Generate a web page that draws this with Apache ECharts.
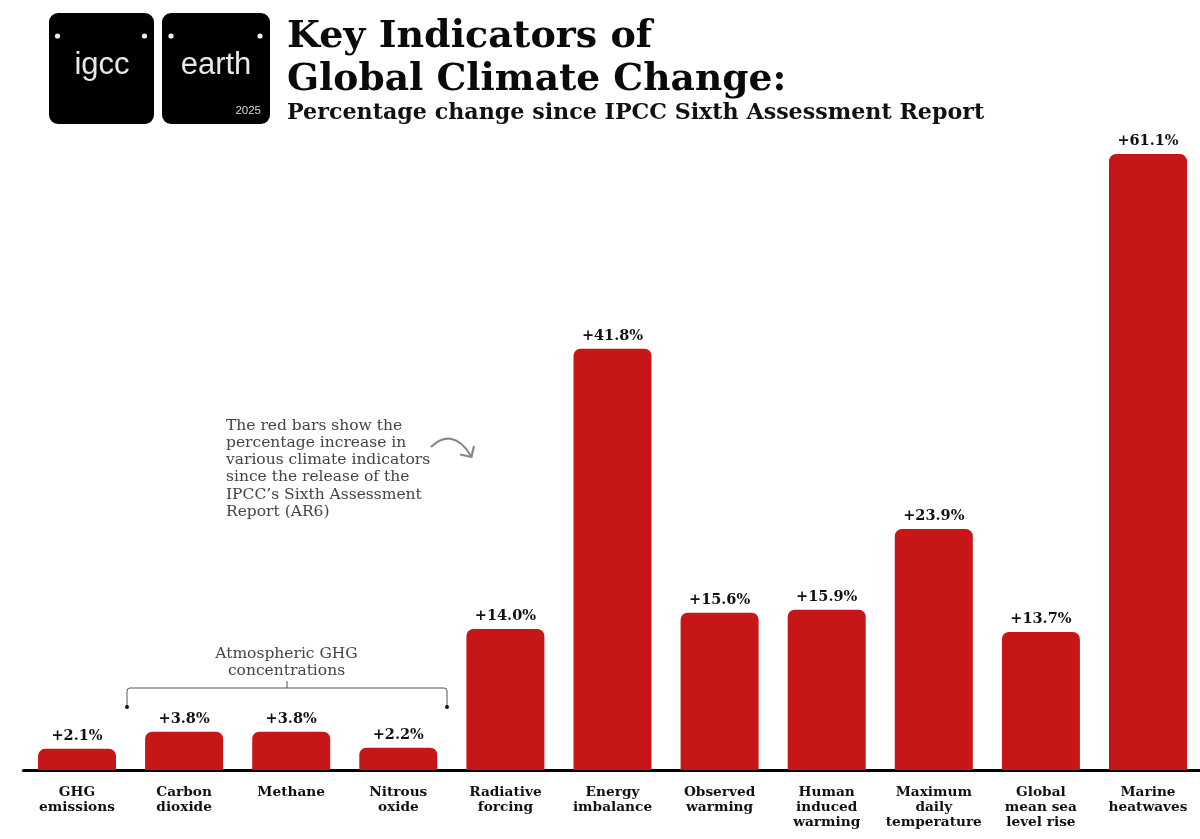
<!DOCTYPE html>
<html><head><meta charset="utf-8">
<style>html,body{margin:0;padding:0;background:#fff}#c{width:1200px;height:839px}</style>
<script src="https://cdn.jsdelivr.net/npm/echarts@6/dist/echarts.min.js"></script>
</head><body><div id="c"></div>
<script>
const categories = ['GHG\nemissions','Carbon\ndioxide','Methane','Nitrous\noxide','Radiative\nforcing','Energy\nimbalance','Observed\nwarming','Human\ninduced\nwarming','Maximum\ndaily\ntemperature','Global\nmean sea\nlevel rise','Marine\nheatwaves'];
const values = [2.1,3.8,3.8,2.2,14.0,41.8,15.6,15.9,23.9,13.7,61.1];
const titleLines = ['Key Indicators of','Global Climate Change:'];
const subtitle = 'Percentage change since IPCC Sixth Assessment Report';
const note = ["The red bars show the","percentage increase in","various climate indicators","since the release of the","IPCC\u2019s Sixth Assessment","Report (AR6)"];
const bracketLabel = ['Atmospheric GHG','concentrations'];
const SERIF = '"DejaVu Serif"';
const SANS = '"Liberation Sans"';
const txt = (x,y,text,font,fill,extra) => ({type:'text',x,y,silent:true,style:Object.assign({text,font,fill,textVerticalAlign:'middle'},extra||{})});
const dot = (x,y,r,fill) => ({type:'circle',shape:{cx:x,cy:y,r},style:{fill},silent:true});
const seg = (x1,y1,x2,y2,stroke,lineWidth) => ({type:'line',shape:{x1,y1,x2,y2},style:{stroke,lineWidth},silent:true});
const curve = (x1,y1,cpx1,cpy1,x2,y2,stroke,lineWidth,cpx2,cpy2) => ({type:'bezierCurve',shape:Object.assign({x1,y1,x2,y2,cpx1,cpy1},cpx2!==undefined?{cpx2,cpy2}:{}),style:{fill:null,stroke,lineWidth},silent:true});
const BR = '#555';
const graphics = [
  {type:'rect',shape:{x:49,y:13,width:105,height:111,r:9},style:{fill:'#000'}},
  {type:'rect',shape:{x:162,y:13,width:108,height:111,r:9},style:{fill:'#000'}},
  dot(57.5,36,2.6,'#eee'),dot(144.5,36,2.6,'#eee'),dot(171,36,2.6,'#eee'),dot(260,36,2.6,'#eee'),
  txt(102,65,'igcc','31px '+SANS,'#e8e8e8',{textAlign:'center'}),
  txt(216,65,'earth','31px '+SANS,'#e8e8e8',{textAlign:'center'}),
  txt(261,111,'2025','11.5px '+SANS,'#d8d8d8',{textAlign:'right'}),
  txt(287,37,titleLines[0],'bold 38px '+SERIF,'#0a0a0a'),
  txt(287,80,titleLines[1],'bold 37.6px '+SERIF,'#0a0a0a'),
  txt(287,113.5,subtitle,'bold 22.2px '+SERIF,'#111'),
  // bracket
  seg(127,707,127,691,BR,1),curve(127,691,127,688,130,688,BR,1),
  seg(130,688,444,688,BR,1),curve(444,688,447,688,447,691,BR,1),
  seg(447,691,447,707,BR,1),seg(287,688,287,681,BR,1),
  dot(127,707,2,'#111'),dot(447,707,2,'#111'),
  // arrow
  curve(431,447,443,435,471,456,'#888',2.2,458,434),
  {type:'polyline',shape:{points:[[474,446],[471.5,457],[460,454.5]]},style:{fill:null,stroke:'#888',lineWidth:2.2},silent:true}
];
note.forEach((t,i)=>graphics.push(txt(226,425.5+i*17.3,t,'15.5px '+SERIF,'#444')));
bracketLabel.forEach((t,i)=>graphics.push(txt(286.5,654+i*17,t,'15.5px '+SERIF,'#444',{textAlign:'center'})));
const chart = echarts.init(document.getElementById('c'),null,{renderer:'canvas'});
chart.setOption({
  animation:false,
  backgroundColor:'#fff',
  grid:{left:23.45,width:1178.1,top:64.4,height:705.6,outerBoundsMode:'none'},
  xAxis:{type:'category',data:categories,
    axisLine:{show:true,lineStyle:{color:'#000',width:3}},axisTick:{show:false},
    axisLabel:{interval:0,margin:15,fontFamily:SERIF,fontWeight:'bold',fontSize:13.7,lineHeight:15,color:'#111',verticalAlign:'top'}},
  yAxis:{type:'value',min:0,max:70,interval:10,show:false,splitLine:{show:false}},
  series:[{type:'bar',data:values,barWidth:78,
    itemStyle:{color:'#C61617',borderRadius:[7,7,0,0]},
    label:{show:true,position:'top',distance:5,fontFamily:SERIF,fontWeight:'bold',fontSize:14.5,color:'#111',
      formatter:p=>'+'+p.value.toFixed(1)+'%'}
  }],
  graphic:graphics
});
</script></body></html>
